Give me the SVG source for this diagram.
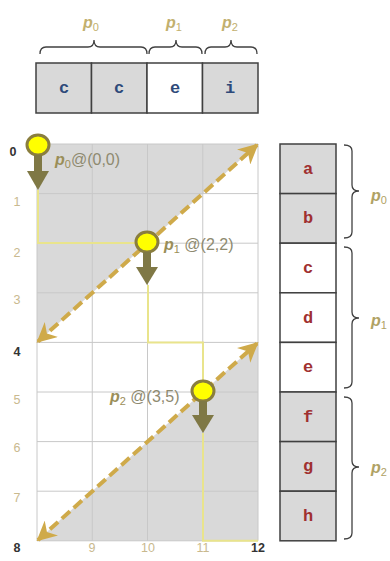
<svg xmlns="http://www.w3.org/2000/svg" width="390" height="561" viewBox="0 0 390 561">
<style>
.cell{stroke:#404040;stroke-width:1.5}
.g{fill:#d9d9d9}.w{fill:#fff}
.tl{font-family:"Liberation Mono",monospace;font-weight:bold;font-size:17px;fill:#2e4a7a;text-anchor:middle}
.rl{font-family:"Liberation Mono",monospace;font-weight:bold;font-size:17px;fill:#a03030;text-anchor:middle}
.br{fill:none;stroke:#404040;stroke-width:1.3}
.pl{font-family:"Liberation Sans",sans-serif;font-style:italic;font-weight:bold;font-size:16px;fill:#c2b06e}
.sub{font-size:11px;font-style:normal;font-weight:normal}
.grid{stroke:#c8c8c8;stroke-width:1}
.ax{font-family:"Liberation Sans",sans-serif;font-size:12.5px;fill:#c9b98e;text-anchor:middle}
.axb{font-family:"Liberation Sans",sans-serif;font-size:12.5px;font-weight:bold;fill:#333;text-anchor:middle}
.dash{stroke:#cfaa4a;stroke-width:4;stroke-dasharray:11 5;fill:none}
.yl{fill:none;stroke:#e9e48c;stroke-width:2}
.pt{fill:#ffff00;stroke:#8a7e3e;stroke-width:3}
.arr{fill:#7f7845}
.lab{font-family:"Liberation Sans",sans-serif;font-size:16px;fill:#8e8a70}
.labp{font-style:italic;font-weight:bold;fill:#9a8e58}
</style>
<defs>
<marker id="ah" viewBox="0 0 10 10" refX="9" refY="5" markerWidth="5" markerHeight="5" orient="auto-start-reverse" markerUnits="strokeWidth">
<path d="M0,0 L10,5 L0,10 L3,5 Z" fill="#cfaa4a"/>
</marker>
</defs>

<g id="top-array">
<rect class="cell g" x="36" y="63" width="55.5" height="50"/>
<rect class="cell g" x="91.5" y="63" width="55.5" height="50"/>
<rect class="cell w" x="147" y="63" width="55.5" height="50"/>
<rect class="cell g" x="202.5" y="63" width="55.5" height="50"/>
<text class="tl" x="64" y="93">c</text>
<text class="tl" x="119" y="93">c</text>
<text class="tl" x="175" y="93">e</text>
<text class="tl" x="230" y="93">i</text>
</g>

<g id="top-braces">
<path class="br" d="M40,54 Q40,47 46,47 L88,47 Q94,47 94,40 Q94,47 100,47 L141,47 Q147,47 147,54"/>
<path class="br" d="M149,54 Q149,47 155,47 L170,47 Q176,47 176,40 Q176,47 182,47 L196,47 Q202,47 202,54"/>
<path class="br" d="M205,54 Q205,47 211,47 L225,47 Q231,47 231,40 Q231,47 237,47 L251,47 Q257,47 257,54"/>
<text class="pl" x="83" y="28">p<tspan class="sub" dy="3">0</tspan></text>
<text class="pl" x="166" y="28">p<tspan class="sub" dy="3">1</tspan></text>
<text class="pl" x="222" y="28">p<tspan class="sub" dy="3">2</tspan></text>
</g>

<g id="grid">
<polygon fill="#d9d9d9" points="37,144 258,144 37,342.4"/>
<polygon fill="#d9d9d9" points="258,342.4 258,540.8 37,540.8"/>
<g class="grid">
<line x1="37" y1="144" x2="258" y2="144"/>
<line x1="37" y1="193.6" x2="258" y2="193.6"/>
<line x1="37" y1="243.2" x2="258" y2="243.2"/>
<line x1="37" y1="292.8" x2="258" y2="292.8"/>
<line x1="37" y1="342.4" x2="258" y2="342.4"/>
<line x1="37" y1="392" x2="258" y2="392"/>
<line x1="37" y1="441.6" x2="258" y2="441.6"/>
<line x1="37" y1="491.2" x2="258" y2="491.2"/>
<line x1="37" y1="540.8" x2="258" y2="540.8"/>
<line x1="37" y1="144" x2="37" y2="540.8"/>
<line x1="92.25" y1="144" x2="92.25" y2="540.8"/>
<line x1="147.5" y1="144" x2="147.5" y2="540.8"/>
<line x1="202.75" y1="144" x2="202.75" y2="540.8"/>
<line x1="258" y1="144" x2="258" y2="540.8"/>
</g>
<text class="axb" x="13" y="156">0</text>
<text class="ax" x="17" y="206">1</text>
<text class="ax" x="17" y="257">2</text>
<text class="ax" x="17" y="304">3</text>
<text class="axb" x="17" y="356">4</text>
<text class="ax" x="17" y="404">5</text>
<text class="ax" x="17" y="452">6</text>
<text class="ax" x="17" y="502">7</text>
<text class="axb" x="17" y="552">8</text>
<text class="ax" x="92" y="552">9</text>
<text class="ax" x="148" y="552">10</text>
<text class="ax" x="203" y="552">11</text>
<text class="axb" x="258" y="552">12</text>
</g>

<g id="connectors">
<line class="dash" x1="38" y1="341.5" x2="257" y2="145" marker-start="url(#ah)" marker-end="url(#ah)"/>
<line class="dash" x1="38" y1="540" x2="257" y2="343.4" marker-start="url(#ah)" marker-end="url(#ah)"/>
<path class="yl" d="M38,190 L38,243 L136,243"/>
<path class="yl" d="M148,285 L148,342.4 L203,342.4 L203,380"/>
<path class="yl" d="M203,433 L203,540.8 L258,540.8"/>
</g>

<g id="p0">
<ellipse class="pt" cx="38" cy="145" rx="11" ry="10"/>
<rect class="arr" x="34" y="155" width="8" height="17"/>
<polygon class="arr" points="27,171 49,171 38,190"/>
<text class="lab" x="55" y="165"><tspan class="labp">p<tspan class="sub" dy="3">0</tspan></tspan><tspan dy="-3">@(0,0)</tspan></text>
</g>
<g id="p1">
<ellipse class="pt" cx="147" cy="242" rx="11" ry="10"/>
<rect class="arr" x="143" y="252" width="8" height="16"/>
<polygon class="arr" points="136,267 158,267 147,285"/>
<text class="lab" x="164" y="250"><tspan class="labp">p<tspan class="sub" dy="3">1</tspan></tspan><tspan dy="-3"> @(2,2)</tspan></text>
</g>
<g id="p2">
<ellipse class="pt" cx="203" cy="391" rx="11" ry="10"/>
<rect class="arr" x="199" y="401" width="8" height="15"/>
<polygon class="arr" points="192,415 214,415 203,433"/>
<text class="lab" x="110" y="402"><tspan class="labp">p<tspan class="sub" dy="3">2</tspan></tspan><tspan dy="-3"> @(3,5)</tspan></text>
</g>

<g id="right-array">
<rect class="cell g" x="280" y="144" width="56" height="49.6"/>
<rect class="cell g" x="280" y="193.6" width="56" height="49.6"/>
<rect class="cell w" x="280" y="243.2" width="56" height="49.6"/>
<rect class="cell w" x="280" y="292.8" width="56" height="49.6"/>
<rect class="cell w" x="280" y="342.4" width="56" height="49.6"/>
<rect class="cell g" x="280" y="392" width="56" height="49.6"/>
<rect class="cell g" x="280" y="441.6" width="56" height="49.6"/>
<rect class="cell g" x="280" y="491.2" width="56" height="49.6"/>
<text class="rl" x="308" y="174">a</text>
<text class="rl" x="308" y="223">b</text>
<text class="rl" x="308" y="273">c</text>
<text class="rl" x="308" y="323">d</text>
<text class="rl" x="308" y="372">e</text>
<text class="rl" x="308" y="422">f</text>
<text class="rl" x="308" y="471">g</text>
<text class="rl" x="308" y="521">h</text>
</g>

<g id="right-braces">
<path class="br" d="M344,145 Q352,145 352,151 L352,185 Q352,191 359,191 Q352,191 352,197 L352,232 Q352,238 344,238"/>
<path class="br" d="M344,247 Q352,247 352,253 L352,312 Q352,318 359,318 Q352,318 352,324 L352,382 Q352,388 344,388"/>
<path class="br" d="M344,397 Q352,397 352,403 L352,461 Q352,467 359,467 Q352,467 352,473 L352,533 Q352,539 344,539"/>
<text class="pl" x="371" y="201" style="fill:#b0a264">p<tspan class="sub" dy="3">0</tspan></text>
<text class="pl" x="371" y="326" style="fill:#b0a264">p<tspan class="sub" dy="3">1</tspan></text>
<text class="pl" x="371" y="473" style="fill:#b0a264">p<tspan class="sub" dy="3">2</tspan></text>
</g>
</svg>
